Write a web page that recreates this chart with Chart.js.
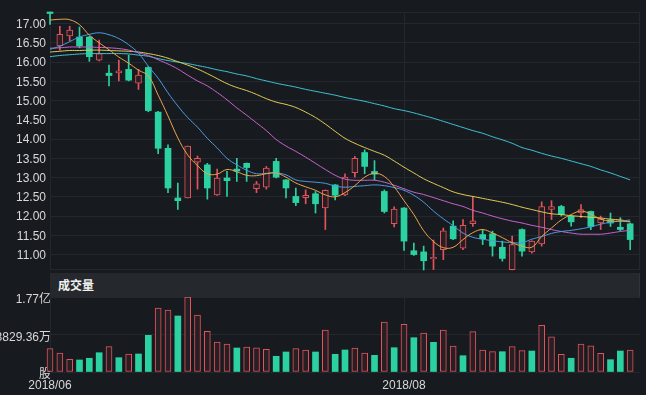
<!DOCTYPE html>
<html>
<head>
<meta charset="utf-8">
<script src="https://cdn.jsdelivr.net/npm/chart.js@4.4.1/dist/chart.umd.min.js"></script>
<style>
  html, body { margin:0; padding:0; background:#171b20; }
  #wrap { position:relative; width:646px; height:395px; overflow:hidden; background:#171b20; }
  #priceBox { position:absolute; left:0; top:0; width:646px; height:272px; }
  #volBox { position:absolute; left:0; top:273px; width:646px; height:122px; }
  #volTitle { position:absolute; left:50px; top:273px; width:590px; height:24px; box-sizing:border-box;
    background:#25292e; border-right:1px solid #30343a; color:#f0f0f0; padding-left:8px;
    font:600 12px "Noto Sans CJK SC", sans-serif; line-height:24px; }
</style>
</head>
<body>
<div id="wrap">
  <div id="priceBox"><canvas id="priceChart"></canvas></div>
  <div id="volBox"><canvas id="volChart"></canvas></div>
  <div id="volTitle">成交量</div>
</div>
<script>
// ---------- data ----------
const dates = [
  '2018-06-11','2018-06-12','2018-06-13','2018-06-14','2018-06-15','2018-06-19','2018-06-20','2018-06-21','2018-06-22','2018-06-25',
  '2018-06-26','2018-06-27','2018-06-28','2018-06-29','2018-07-02','2018-07-03','2018-07-04','2018-07-05','2018-07-06','2018-07-09',
  '2018-07-10','2018-07-11','2018-07-12','2018-07-13','2018-07-16','2018-07-17','2018-07-18','2018-07-19','2018-07-20','2018-07-23',
  '2018-07-24','2018-07-25','2018-07-26','2018-07-27','2018-07-30','2018-07-31','2018-08-01','2018-08-02','2018-08-03','2018-08-06',
  '2018-08-07','2018-08-08','2018-08-09','2018-08-10','2018-08-13','2018-08-14','2018-08-15','2018-08-16','2018-08-17','2018-08-20',
  '2018-08-21','2018-08-22','2018-08-23','2018-08-24','2018-08-27','2018-08-28','2018-08-29','2018-08-30','2018-08-31','2018-09-03'
];
const tickLabels = ['2018/06', '2018/08'];

const open = [17.30,16.42,16.68,16.65,16.65,16.05,15.71,15.72,15.81,15.45,
  15.86,14.70,13.76,12.47,12.47,13.40,13.33,12.55,12.99,13.22,
  13.37,12.71,12.75,13.42,12.94,12.51,12.48,12.58,12.21,12.81,
  12.55,13.13,13.65,13.16,12.64,11.80,12.21,11.10,11.07,10.89,
  11.13,11.74,11.17,11.80,11.52,11.54,11.19,10.61,11.65,11.07,
  11.28,12.17,12.25,12.00,12.08,12.12,11.82,11.90,11.71,11.80];
const close = [17.26,16.72,16.83,16.42,16.14,16.22,15.65,15.77,15.53,15.66,
  14.74,13.76,12.73,12.40,13.82,13.50,12.73,12.99,12.92,13.17,
  13.26,12.84,13.25,13.01,12.73,12.35,12.54,12.32,12.67,12.54,
  13.01,13.50,13.29,13.09,12.12,12.18,11.35,11.00,10.84,10.93,
  11.62,11.41,11.76,11.88,11.41,11.22,10.90,11.26,11.09,11.35,
  12.25,12.25,12.04,11.85,12.17,11.73,11.93,11.82,11.65,11.39];
const high = [17.30,16.93,16.93,16.91,16.67,16.57,15.92,16.05,16.18,15.81,
  15.89,14.72,13.85,12.86,13.82,13.56,13.37,13.22,13.16,13.50,
  13.38,12.90,13.29,13.50,12.95,12.73,12.68,12.64,12.68,12.82,
  13.10,13.55,13.72,13.44,12.68,12.24,12.22,11.30,11.22,11.38,
  11.69,11.88,11.91,12.51,11.65,11.61,11.35,11.48,11.67,11.36,
  12.37,12.40,12.28,12.01,12.30,12.13,12.00,12.08,11.96,11.82];
const low = [16.98,16.31,16.55,16.37,16.02,16.03,15.38,15.51,15.51,15.29,
  14.71,13.62,12.61,12.17,12.47,12.70,12.44,12.54,12.51,12.90,
  12.90,12.61,12.70,12.99,12.47,12.27,12.32,12.08,11.65,12.42,
  12.53,13.01,13.10,12.94,12.08,11.72,11.11,10.98,10.60,10.61,
  10.87,11.39,11.13,11.73,11.26,10.96,10.83,10.60,10.96,11.04,
  11.22,11.91,12.00,11.74,11.96,11.65,11.65,11.73,11.62,11.13];

const ma5 = [17.09,17.11,17.10,16.97,16.70,16.50,16.32,16.13,15.97,15.79,
  15.64,15.14,14.60,14.03,13.59,13.31,13.10,13.09,13.21,13.15,
  13.06,13.05,13.10,13.12,13.01,12.86,12.76,12.67,12.55,12.50,
  12.61,12.79,13.01,13.11,13.03,12.76,12.40,12.04,11.62,11.34,
  11.18,11.19,11.39,11.57,11.65,11.56,11.44,11.31,11.22,11.19,
  11.47,11.69,11.90,12.04,12.13,12.05,11.92,11.87,11.87,11.85];
const ma10 = [16.33,16.41,16.53,16.65,16.72,16.76,16.71,16.61,16.45,16.23,
  15.89,15.58,15.20,14.86,14.56,14.31,14.02,13.77,13.50,13.33,
  13.19,13.10,13.11,13.12,13.07,12.94,12.90,12.88,12.85,12.78,
  12.75,12.77,12.79,12.81,12.79,12.74,12.67,12.54,12.36,12.13,
  11.93,11.75,11.56,11.45,11.40,11.36,11.33,11.31,11.31,11.40,
  11.47,11.55,11.60,11.63,11.67,11.72,11.79,11.84,11.87,11.90];
const ma20 = [16.36,16.37,16.39,16.39,16.39,16.38,16.37,16.35,16.31,16.24,
  16.17,16.06,15.95,15.82,15.66,15.51,15.38,15.21,15.02,14.81,
  14.62,14.42,14.22,13.99,13.82,13.68,13.53,13.37,13.21,13.06,
  12.96,12.93,12.93,12.93,12.88,12.80,12.71,12.62,12.56,12.48,
  12.40,12.32,12.25,12.15,12.08,12.00,11.93,11.87,11.82,11.76,
  11.71,11.65,11.60,11.56,11.53,11.53,11.53,11.56,11.60,11.63];
const ma30 = [16.26,16.28,16.30,16.30,16.31,16.31,16.30,16.29,16.28,16.26,
  16.22,16.17,16.10,16.01,15.92,15.82,15.70,15.57,15.44,15.34,
  15.26,15.16,15.05,14.96,14.90,14.82,14.70,14.56,14.39,14.20,
  14.02,13.89,13.78,13.68,13.58,13.43,13.27,13.12,12.97,12.85,
  12.74,12.63,12.56,12.51,12.46,12.41,12.36,12.30,12.23,12.17,
  12.11,12.06,12.04,12.01,11.99,11.97,11.95,11.92,11.90,11.86];
const ma60 = [16.14,16.17,16.19,16.21,16.22,16.22,16.22,16.22,16.21,16.18,
  16.15,16.09,16.04,16.00,15.96,15.91,15.86,15.80,15.75,15.69,
  15.64,15.57,15.51,15.45,15.40,15.35,15.29,15.24,15.19,15.14,
  15.08,15.03,14.98,14.92,14.86,14.79,14.74,14.68,14.61,14.54,
  14.46,14.38,14.30,14.22,14.15,14.06,13.98,13.89,13.78,13.71,
  13.63,13.56,13.50,13.43,13.36,13.29,13.20,13.12,13.03,12.94];

const volume = [54900000,44700000,29900000,28300000,32300000,45400000,59600000,33700000,42400000,42400000,
  86400000,150700000,146000000,131900000,176587200,134200000,95800000,70600000,65900000,56500000,
  58900000,57200000,53400000,37000000,47100000,54900000,51800000,47100000,98900000,41700000,
  51800000,56500000,44700000,39300000,117700000,57200000,112300000,80800000,91800000,69900000,
  98900000,61200000,38400000,94900000,51800000,47800000,47800000,59600000,50200000,49400000,
  110000000,83100000,41700000,32300000,65900000,61900000,44000000,29000000,49400000,51800000];
// 1 = red (hollow) volume bar, 0 = green
const volUp = [1,1,1,0,0,0,1,0,1,0, 0,1,1,0,1,1,1,1,1,0, 1,1,1,0,0,1,1,0,1,0,
  0,1,1,0,1,0,1,0,1,0, 1,1,0,1,1,1,0,1,1,0, 1,1,1,0,1,1,1,0,0,1];

const priceTicks = [11, 11.5, 12, 12.5, 13, 13.5, 14, 14.5, 15, 15.5, 16, 16.5, 17];
const volTicks = [0, 88293600, 176587200];

// ---------- styles ----------
const UP = '#e0545a', DOWN = '#2bd1a0', HOLLOW = '#281f25';
const GRID = '#24282e';
const TXT = '#d8d8d8';
Chart.defaults.font.family = '"Liberation Sans", Arial, "Noto Sans CJK SC", sans-serif';
Chart.defaults.font.size = 12;
Chart.defaults.animation = false;

const labels = dates.concat(['']);   // one empty slot at the right edge
function monthLabel(i){
  if(i >= dates.length) return '';
  const m = dates[i].slice(0,7).replace('-','/');
  const prev = i > 0 ? dates[i-1].slice(0,7).replace('-','/') : null;
  return (m !== prev && tickLabels.includes(m)) ? m : '';
}
const isUp = i => close[i] >= open[i];

const frame = {
  id: 'frame',
  beforeDatasetsDraw(chart){
    const a = chart.chartArea, c = chart.ctx;
    c.save(); c.strokeStyle = GRID; c.lineWidth = 1;
    c.strokeRect(Math.round(a.left)+0.5, Math.round(a.top)+0.5, Math.round(a.right-a.left)-1, Math.round(a.bottom-a.top)-1);
    c.restore();
  }
};

function xAxis(showLabels, h){
  return {
    type: 'category', offset: false,
    grid: { color: c => monthLabel(c.index) ? GRID : 'transparent', drawTicks: false, offset: false },
    border: { display: false },
    ticks: { display: showLabels, autoSkip: false, maxRotation: 0, color: TXT, padding: 6,
             callback: (v, i) => monthLabel(i) },
    afterFit: s => { s.height = h; s.paddingLeft = 0; s.paddingRight = 0; }
  };
}
// fixed width y axis, no extra padding for the end labels
const fitY = s => { s.width = 50; s.paddingTop = 0; s.paddingBottom = 0; };

function maLine(data, color){
  return { type: 'line', data, borderColor: color, borderWidth: 1, pointRadius: 0,
           tension: 0.4, fill: false, order: 0 };
}

// ---------- price chart ----------
new Chart(document.getElementById('priceChart'), {
  type: 'bar',
  data: {
    labels,
    datasets: [
      { data: low.map((l,i)=>[l, high[i]]), barThickness: 1, grouped: false, order: 2, clip: false,
        backgroundColor: c => isUp(c.dataIndex) ? UP : DOWN },
      { data: open.map((o,i)=>[o, close[i]]), barThickness: 6, grouped: false, order: 1, clip: false,
        minBarLength: 1, borderSkipped: false,
        backgroundColor: c => isUp(c.dataIndex) ? HOLLOW : DOWN,
        borderColor: c => isUp(c.dataIndex) ? UP : DOWN,
        borderWidth: c => isUp(c.dataIndex) ? 1 : 0 },
      maLine(ma5, '#eda54a'),
      maLine(ma10, '#4d9be0'),
      maLine(ma20, '#c964cf'),
      maLine(ma30, '#e3cc52'),
      maLine(ma60, '#3ec3d6')
    ]
  },
  options: {
    responsive: true, maintainAspectRatio: false,
    layout: { padding: { top: 12, right: 6, left: 0, bottom: 0 } },
    plugins: { legend: { display: false }, tooltip: { enabled: false } },
    scales: {
      x: xAxis(false, 2),
      y: {
        min: 10.6, max: 17.3,
        afterBuildTicks: s => { s.ticks = priceTicks.map(v => ({ value: v })); },
        afterFit: fitY,
        grid: { color: GRID, drawTicks: false },
        border: { display: false },
        ticks: { color: TXT, padding: 4, labelOffset: 1, callback: v => Number(v).toFixed(2) }
      }
    }
  },
  plugins: [frame]
});

// ---------- volume chart ----------
function volText(v){
  if(v === 0) return '股';
  if(v >= 1e8) return (v/1e8).toFixed(2) + '亿';
  return (v/1e4).toFixed(2) + '万';
}

new Chart(document.getElementById('volChart'), {
  type: 'bar',
  data: {
    labels,
    datasets: [{
      data: volume, barThickness: 6, clip: false, borderSkipped: false,
      backgroundColor: c => volUp[c.dataIndex] ? HOLLOW : DOWN,
      borderColor: c => volUp[c.dataIndex] ? UP : DOWN,
      borderWidth: c => volUp[c.dataIndex] ? 1 : 0
    }]
  },
  options: {
    responsive: true, maintainAspectRatio: false,
    layout: { padding: { top: 24, right: 6, left: 0, bottom: 0 } },
    plugins: { legend: { display: false }, tooltip: { enabled: false } },
    scales: {
      x: xAxis(true, 23),
      y: {
        min: 0, max: 176587200,
        afterBuildTicks: s => { s.ticks = volTicks.map(v => ({ value: v })); },
        afterFit: fitY,
        grid: { color: GRID, drawTicks: false },
        border: { display: false },
        ticks: { color: TXT, padding: -1, labelOffset: 3, callback: v => volText(v) }
      }
    }
  }
});
</script>
</body>
</html>
